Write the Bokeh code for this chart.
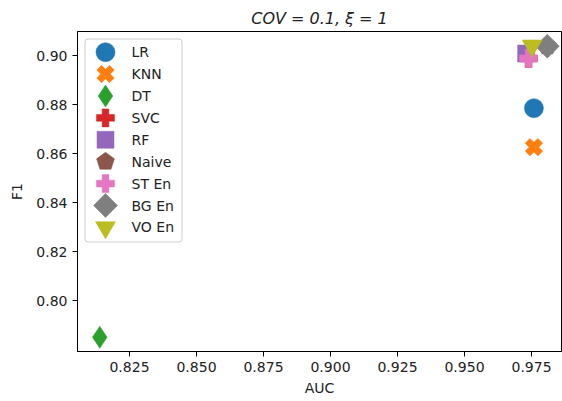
import numpy as np
from bokeh.plotting import figure
from bokeh.models import Range1d, FixedTicker, PrintfTickFormatter
from bokeh.core.properties import value
from bokeh.embed import file_html
from bokeh.resources import INLINE

# ---------------- data ----------------
models = ["LR", "KNN", "DT", "SVC", "RF", "Naive", "ST En", "BG En", "VO En"]
auc = [0.9759, 0.9759, 0.8139, 0.9739, 0.9730, 0.9809, 0.9739, 0.9809, 0.9752]
f1 = [0.8785, 0.8626, 0.7850, 0.8988, 0.9008, 0.9038, 0.8988, 0.9038, 0.9040]
colors = ["#1f77b4", "#ff7f0e", "#2ca02c", "#d62728", "#9467bd",
          "#8c564b", "#e377c2", "#7f7f7f", "#bcbd22"]
x_ticks = [0.825, 0.850, 0.875, 0.900, 0.925, 0.950, 0.975]
y_ticks = [0.80, 0.82, 0.84, 0.86, 0.88, 0.90]
title_text = "COV = 0.1, ξ = 1"

# ---------------- layout ----------------
W, H = 562, 401
L, R, T, B = 77, 561, 31, 351
X0, X1 = 0.80560, 0.98619
Y0, Y1 = 0.779184, 0.909796
FONT = "DejaVu Sans"
FS = "14px"

def dx(px):
    return X0 + (px - L) / (R - L) * (X1 - X0)

def dy(py):
    return Y1 - (py - T) / (B - T) * (Y1 - Y0)

def to_px(x, y):
    return L + (x - X0) / (X1 - X0) * (R - L), T + (Y1 - y) / (Y1 - Y0) * (B - T)

p = figure(width=W, height=H, output_backend="svg", toolbar_location=None,
           x_range=Range1d(X0, X1), y_range=Range1d(Y0, Y1),
           min_border_left=L, min_border_right=W - R,
           min_border_top=T, min_border_bottom=H - B,
           title=title_text)
p.title.align = "center"
p.title.text_font = FONT
p.title.text_font_size = "16px"
p.title.text_font_style = "italic"
p.title.text_color = "#222222"
p.title.standoff = 8
p.background_fill_color = "white"
p.border_fill_color = "white"
p.outline_line_color = "black"
p.outline_line_width = 1
p.grid.visible = False

for ax in (p.xaxis[0], p.yaxis[0]):
    ax.axis_line_color = "black"
    ax.major_tick_line_color = "black"
    ax.major_tick_out = 5
    ax.major_tick_in = 0
    ax.minor_tick_line_color = None
    ax.major_label_text_font = FONT
    ax.major_label_text_font_size = FS
    ax.major_label_text_color = "#222222"
    ax.axis_label_text_font = FONT
    ax.axis_label_text_font_size = FS
    ax.axis_label_text_font_style = "normal"
    ax.axis_label_text_color = "#222222"
    ax.major_label_standoff = 5

p.xaxis.ticker = FixedTicker(ticks=x_ticks)
p.yaxis.ticker = FixedTicker(ticks=y_ticks)
p.xaxis.formatter = PrintfTickFormatter(format="%.3f")
p.yaxis.formatter = PrintfTickFormatter(format="%.2f")
p.xaxis.axis_label = "AUC"
p.yaxis.axis_label = "F1"
p.xaxis.axis_label_standoff = 5
p.yaxis.axis_label_standoff = 8

# marker specs: (marker, size, angle)
specs = {
    "LR": ("circle", 19, 0.0),
    "KNN": ("plus", 18, np.pi / 4),
    "DT": ("diamond", 22, 0.0),
    "SVC": ("plus", 18, 0.0),
    "RF": ("square", 17, 0.0),
    "Naive": (None, 9.4, 0.0),
    "ST En": ("plus", 18, 0.0),
    "BG En": ("square", 17, np.pi / 4),
    "VO En": ("inverted_triangle", 20, 0.0),
}

def pentagon(cx, cy, r):
    ang = np.pi / 2 + np.arange(5) * 2 * np.pi / 5
    return [dx(cx + r * np.cos(a)) for a in ang], [dy(cy - r * np.sin(a)) for a in ang]

def draw(name, x, y, color):
    m, s, a = specs[name]
    if m is None:
        cx, cy = to_px(x, y)
        xs, ys = pentagon(cx, cy, s)
        p.patch(xs, ys, fill_color=color, line_color=color, line_width=0.5)
    else:
        p.scatter([x], [y], marker=m, size=s, angle=a,
                  fill_color=color, line_color=color, line_width=0.5)

# draw hidden ones first, then the rest in legend order
order = [3, 5, 0, 1, 2, 4, 6, 7, 8]
for i in order:
    draw(models[i], auc[i], f1[i], colors[i])

# ---------------- legend (manual) ----------------
LG_L, LG_R, LG_T, LG_B = 84.5, 181.5, 38.5, 241.5
row0, row_step = 51.7, 21.9
mk_x, lab_x = 105, 131
p.quad(left=[dx(LG_L)], right=[dx(LG_R)], top=[dy(LG_T)], bottom=[dy(LG_B)],
       fill_color="white", fill_alpha=0.8, line_color="#cccccc", line_width=1,
       border_radius=3)
for i, name in enumerate(models):
    py = row0 + i * row_step
    m, s, a = specs[name]
    if m is None:
        xs, ys = pentagon(mk_x, py, s)
        p.patch(xs, ys, fill_color=colors[i], line_color=colors[i], line_width=0.5)
    else:
        p.scatter([dx(mk_x)], [dy(py)], marker=m, size=s, angle=a,
                  fill_color=colors[i], line_color=colors[i], line_width=0.5)
p.text(x=[dx(lab_x)] * len(models),
       y=[dy(row0 + i * row_step) for i in range(len(models))],
       text=models, text_font=value(FONT), text_font_size=FS,
       text_baseline="middle", text_align="left", text_color="#222222")

open("out.html", "w").write(file_html(p, INLINE))
